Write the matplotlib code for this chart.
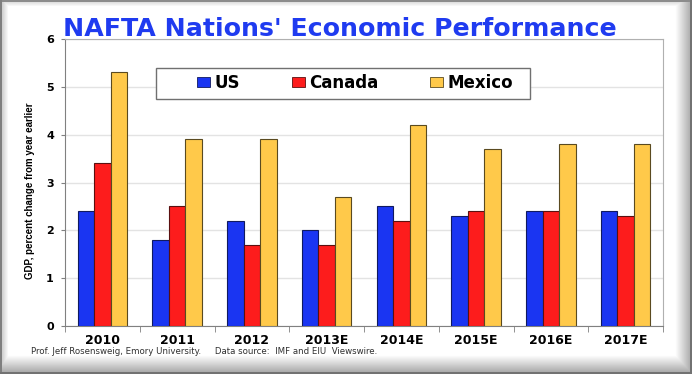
import numpy as np
import matplotlib
matplotlib.use("Agg")
import matplotlib.pyplot as plt
from matplotlib.patches import Patch, Rectangle

plt.rcParams['font.family'] = ['DejaVu Sans']

categories = ["2010", "2011", "2012", "2013E", "2014E", "2015E", "2016E", "2017E"]
us = [2.4, 1.8, 2.2, 2.0, 2.5, 2.3, 2.4, 2.4]
canada = [3.4, 2.5, 1.7, 1.7, 2.2, 2.4, 2.4, 2.3]
mexico = [5.3, 3.9, 3.9, 2.7, 4.2, 3.7, 3.8, 3.8]
series_names = ["US", "Canada", "Mexico"]
colors = ["#1a35f2", "#fd1c1c", "#ffc94a"]
edges = ["#101a60", "#5a1010", "#5a4a20"]

W, H = 692, 374
fig = plt.figure(figsize=(W / 100, H / 100), dpi=100)

# background frame with shaded border
bg = fig.add_axes([0, 0, 1, 1], zorder=-10)
xx, yy = np.meshgrid(np.arange(W), np.arange(H))
img = np.ones((H, W))
def ramp(d, d0, d1, v0, v1):
    t = np.clip((d - d0) / (d1 - d0), 0, 1)
    return v0 + (v1 - v0) * t
img = np.minimum(img, np.where(xx < 2, 0.5, ramp(xx, 2, 8, 0.82, 1.0)))
img = np.minimum(img, np.where(yy < 2, 0.55, ramp(yy, 2, 6, 0.88, 1.0)))
img = np.minimum(img, np.where(xx > W - 3, 0.45, ramp(W - 3 - xx, 0, 14, 0.7, 1.0)))
img = np.minimum(img, np.where(yy > H - 3, 0.45, ramp(H - 3 - yy, 0, 16, 0.68, 1.0)))
rgb = np.stack([img, img, img], axis=-1)
bg.imshow(rgb, aspect='auto', extent=[0, 1, 0, 1], origin='upper')
bg.set_axis_off()

AX_L, AX_R, AX_T, AX_B = 65, 663, 39, 326
ax = fig.add_axes([AX_L / W, 1 - AX_B / H, (AX_R - AX_L) / W, (AX_B - AX_T) / H])
x = np.arange(len(categories))
bw = 0.22
for i, (vals, name) in enumerate(zip([us, canada, mexico], series_names)):
    ax.bar(x + (i - 1) * bw, vals, width=bw, color=colors[i], edgecolor=edges[i],
           linewidth=0.8, zorder=3)

ax.set_xlim(-0.5, len(categories) - 0.5)
ax.set_ylim(0, 6)
ax.set_yticks(range(0, 7))
ax.set_yticklabels([str(v) for v in range(0, 7)], fontsize=8, fontweight='bold')
ax.set_xticks(x)
ax.set_xticklabels(categories, fontsize=9, fontweight='bold')
ax.tick_params(axis='x', length=0, pad=6)
ax.set_xticks(np.arange(-0.5, len(categories)), minor=True)
ax.tick_params(axis='x', which='minor', length=4, color='#808080', direction='out')
ax.tick_params(axis='y', length=3, color='#808080', direction='out', pad=5)
ax.grid(axis='y', color='#e3e3e3', linewidth=1.0, zorder=0)
for s in ['top', 'right']:
    ax.spines[s].set_color('#b0b0b0')
for s in ['left', 'bottom']:
    ax.spines[s].set_color('#808080')
ax.set_facecolor('white')

ax.set_ylabel("GDP, percent change from year earlier", fontsize=7, fontweight='bold',
              family='Liberation Sans')
ax.yaxis.set_label_coords((35 - AX_L) / (AX_R - AX_L), 0.47)

fig.text(339.5 / W, 1 - 29.5 / H, "NAFTA Nations' Economic Performance", color='#1f3bf0',
         fontsize=18.2, fontweight='bold', ha='center', va='center')

# legend frame
fig.add_artist(Rectangle((156 / W, 1 - 99 / H), (530 - 156) / W, 31 / H,
                         transform=fig.transFigure, facecolor='white',
                         edgecolor='#707070', linewidth=1.0, zorder=5))
handles = [Patch(facecolor=colors[i], edgecolor=edges[i], linewidth=0.6) for i in range(3)]
leg = fig.legend(handles, series_names, loc='center', bbox_to_anchor=(355.5 / W, 1 - 83 / H),
                 ncol=3, prop={'size': 12, 'weight': 'semibold'}, frameon=False,
                 handlelength=0.75, handleheight=0.6, handletextpad=0.3,
                 columnspacing=3.1, borderpad=0, borderaxespad=0)
leg.set_zorder(6)

fig.text(31 / W, 1 - 352 / H,
         "Prof. Jeff Rosensweig, Emory University.     Data source:  IMF and EIU  Viewswire.",
         fontsize=6.2, color='#303030', ha='left', va='center')

fig.savefig("out.png", dpi=100)
